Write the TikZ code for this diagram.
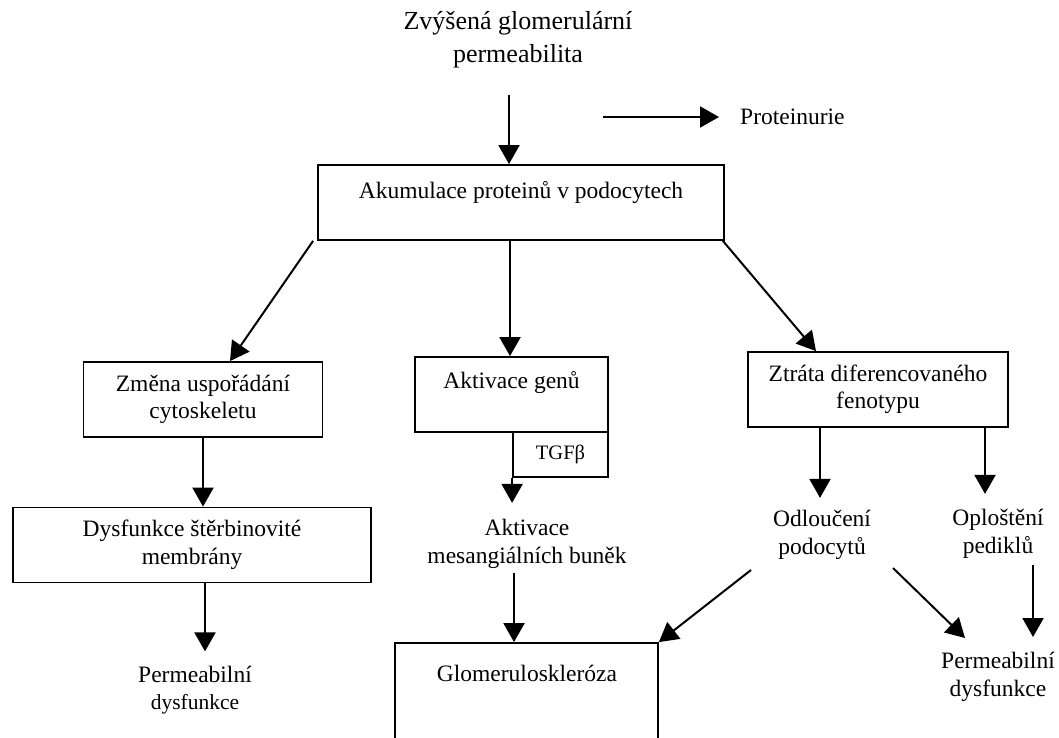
\documentclass[tikz,border=0pt]{standalone}
\usepackage{fontspec}
\setmainfont{Liberation Serif}
\usetikzlibrary{arrows.meta,calc}
\begin{document}
\begin{tikzpicture}[x=1pt,y=-1pt,
 box/.style={draw, line width=1.8pt, inner sep=0pt},
 txt/.style={align=center, inner sep=0pt, font=\fontsize{23.5}{27.5}\selectfont},
 arr/.style={line width=2pt, -{Triangle[length=19pt,width=21pt]}},
]
\useasboundingbox[fill=white] (0,0) rectangle (1059,738);
\clip (0,0) rectangle (1059,738);
% texts
\node[txt, font=\fontsize{26}{33}\selectfont] (title) at (518,40) {Zvýšená glomerulární\\permeabilita};
\node[txt, anchor=west] (prot) at (740,117) {Proteinurie};
% boxes
\node[box, minimum width=406pt, minimum height=75pt] (akum) at (521,202.5) {};
\node[txt] (akumt) at (521,193) {Akumulace proteinů v podocytech};
\node[box, minimum width=239pt, minimum height=75pt, txt] (zmena) at (203,399.5) {Změna uspořádání\\cytoskeletu};
\node[box, minimum width=193pt, minimum height=75pt] (gen) at (511.5,394.5) {};
\node[txt] (gent) at (511.5,383) {Aktivace genů};
\node[box, minimum width=95pt, minimum height=45pt, font=\fontsize{20.5}{24}\selectfont] (tgf) at (560.5,454.5) {TGFβ};
\node[box, minimum width=358pt, minimum height=75pt, txt] (dysf) at (192,545) {Dysfunkce štěrbinovité\\membrány};
\node[box, minimum width=260pt, minimum height=75pt, txt] (ztrata) at (878,389.5) {Ztráta diferencovaného\\fenotypu};
\node[box, minimum width=263pt, minimum height=140pt] (glom) at (526.5,713) {};
\node[txt] (glomt) at (527,673) {Glomeruloskleróza};
% free texts
\node[txt] (mes) at (527,544) {Aktivace\\mesangiálních buněk};
\node[txt] (odl) at (822,535) {Odloučení\\podocytů};
\node[txt] (opl) at (998,534) {Oploštění\\pediklů};
\node[txt] (permL) at (195,690) {Permeabilní\\{\fontsize{21.5}{25}\selectfont dysfunkce}};
\node[txt] (permR) at (998,677) {Permeabilní\\dysfunkce};
% coordinates
\coordinate (t0) at (509,95);
\coordinate (p0) at (603,117);
\coordinate (m0) at (514,573);
\coordinate (o0) at (751,570);
\coordinate (o1) at (893,568);
\coordinate (o2) at (1033,565);
% arrows
\draw[arr] (t0) -- (t0 |- akum.north);
\draw[arr] (p0) -- ([xshift=-21pt]prot.west);
\draw[arr] ([xshift=-4pt]akum.south west) -- ([xshift=27pt]zmena.north);
\draw[arr] ([xshift=-1.5pt]akum.south -| gen.north) -- ([xshift=-1.5pt]gen.north);
\draw[arr] ([xshift=-2pt]akum.south east) -- ([xshift=-62pt]ztrata.north);
\draw[arr] (zmena.south) -- (zmena.south |- dysf.north);
\draw[arr] ([xshift=13pt]dysf.south) -- ++(0,68);
\draw[arr] (tgf.south west) -- ++(0,25);
\draw[arr] (m0) -- (m0 |- glom.north);
\draw[arr] (o0) -- (glom.north east);
\draw[arr] ([xshift=-58pt]ztrata.south) -- ++(0,70);
\draw[arr] ([xshift=107pt]ztrata.south) -- ++(0,66);
\draw[arr] (o1) -- (965,638);
\draw[arr] (o2) -- (1033,637);
\end{tikzpicture}
\end{document}
